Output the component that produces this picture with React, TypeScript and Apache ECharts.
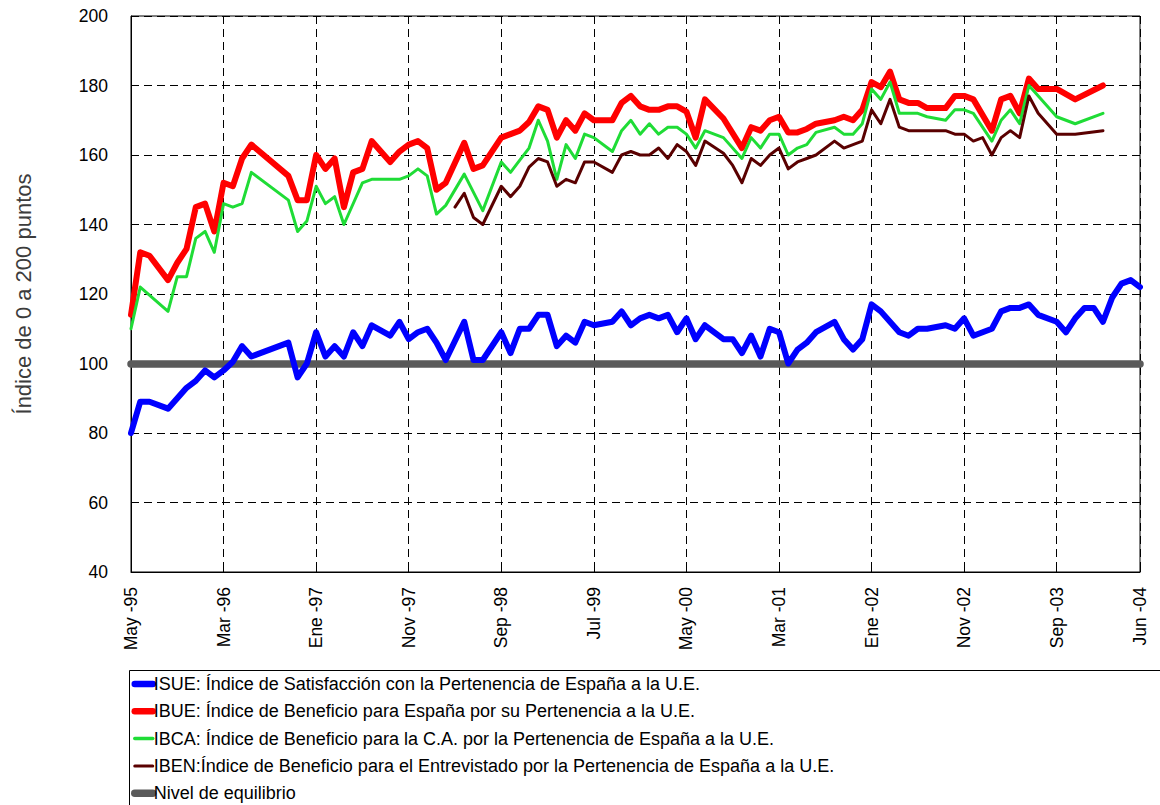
import React, { useEffect, useRef } from "react";
import * as echarts from "echarts";

// Month names (Spanish) and categories: monthly from May 1995 to Jun 2004
const MONTHS = ["Ene", "Feb", "Mar", "Abr", "May", "Jun", "Jul", "Ago", "Sep", "Oct", "Nov", "Dic"];
const START_YEAR = 1995;
const START_MONTH = 4; // May
const N_MONTHS = 110;
const CATEGORIES: string[] = [];
for (let i = 0; i < N_MONTHS; i++) {
  const m = (START_MONTH + i) % 12;
  const y = START_YEAR + Math.floor((START_MONTH + i) / 12);
  CATEGORIES.push(`${MONTHS[m]} -${String(y % 100).padStart(2, "0")}`);
}

const Y_MIN = 40;
const Y_MAX = 200;
const Y_STEP = 20;
const EQUILIBRIUM = 100;

const NAME_ISUE = "ISUE: Índice de Satisfacción con la Pertenencia de España a la U.E.";
const NAME_IBUE = "IBUE: Índice de Beneficio para España por su Pertenencia a la U.E.";
const NAME_IBCA = "IBCA: Índice de Beneficio para la C.A. por la Pertenencia de España a la U.E.";
const NAME_IBEN = "IBEN:Índice de Beneficio para el Entrevistado por la Pertenencia de España a la U.E.";
const NAME_EQ = "Nivel de equilibrio";
const Y_TITLE = "Índice de 0 a 200 puntos";

// [month index, value]
const ISUE: [number, number][] = [
  [0, 80], [1, 89], [2, 89], [4, 87], [6, 93], [7, 95], [8, 98], [9, 96], [10, 98], [11, 100.5],
  [12, 105], [13, 102], [17, 106], [18, 96], [19, 100], [20, 109], [21, 102], [22, 105], [23, 102],
  [24, 109], [25, 105], [26, 111], [28, 108], [29, 112], [30, 107], [31, 109], [32, 110], [33, 106],
  [34, 101], [36, 112], [37, 101], [38, 101], [40, 109], [41, 103], [42, 110], [43, 110], [44, 114],
  [45, 114], [46, 105], [47, 108], [48, 106], [49, 112], [50, 111], [52, 112], [53, 115], [54, 111],
  [55, 113], [56, 114], [57, 113], [58, 114], [59, 109], [60, 113], [61, 107], [62, 111], [64, 107],
  [65, 107], [66, 103], [67, 108], [68, 102], [69, 110], [70, 109], [71, 100], [72, 104], [73, 106],
  [74, 109], [76, 112], [77, 107], [78, 104], [79, 107], [80, 117], [81, 115], [83, 109], [84, 108],
  [85, 110], [86, 110], [88, 111], [89, 110], [90, 113], [91, 108], [93, 110], [94, 115], [95, 116],
  [96, 116], [97, 117], [98, 114], [100, 112], [101, 109], [102, 113], [103, 116], [104, 116],
  [105, 112], [106, 119], [107, 123], [108, 124], [109, 122],
];

const IBUE: [number, number][] = [
  [0, 114], [1, 132], [2, 131], [4, 124], [5, 129], [6, 133], [7, 145], [8, 146], [9, 138], [10, 152],
  [11, 151], [12, 159], [13, 163], [17, 154], [18, 147], [19, 147], [20, 160], [21, 156], [22, 159],
  [23, 145], [24, 155], [25, 156], [26, 164], [28, 158], [29, 161], [30, 163], [31, 164], [32, 162],
  [33, 150], [34, 152], [36, 163.5], [37, 156], [38, 157], [40, 165], [41, 166], [42, 167],
  [43, 169.5], [44, 174], [45, 173], [46, 165], [47, 170], [48, 167], [49, 172], [50, 170], [52, 170],
  [53, 175], [54, 177], [55, 174], [56, 173], [57, 173], [58, 174], [59, 174], [60, 172.5], [61, 165],
  [62, 176], [64, 170.5], [66, 162], [67, 168], [68, 167], [69, 170], [70, 171], [71, 166.5],
  [72, 166.5], [73, 167.5], [74, 169], [76, 170], [77, 171], [78, 170], [79, 173], [80, 181],
  [81, 179.5], [82, 184], [83, 176], [84, 175], [85, 175], [86, 173.5], [88, 173.5], [89, 177],
  [90, 177], [91, 176], [93, 167], [94, 176], [95, 177], [96, 172], [97, 182], [98, 179], [100, 179],
  [102, 176], [105, 180],
];

const IBCA: [number, number][] = [
  [0, 110], [1, 122], [4, 115], [5, 125], [6, 125], [7, 136], [8, 138], [9, 132], [10, 146], [11, 145],
  [12, 146], [13, 155], [17, 147], [18, 138], [19, 141], [20, 151], [21, 146], [22, 148], [23, 140],
  [25, 152], [26, 153], [29, 153], [30, 154], [31, 156], [32, 154], [33, 143], [34, 145.5],
  [36, 154.5], [38, 144], [40, 158], [41, 155], [42, 158.5], [43, 162], [44, 170], [45, 164],
  [46, 153], [47, 163], [48, 159], [49, 166], [50, 165], [52, 161], [53, 167], [54, 170], [55, 166],
  [56, 169], [57, 166], [58, 168], [59, 168], [60, 166], [61, 162], [62, 167], [64, 165], [66, 159],
  [67, 165], [68, 162], [69, 166], [70, 166], [71, 160], [72, 162], [73, 163], [74, 166.5], [76, 168],
  [77, 166], [78, 166], [79, 169], [80, 179], [81, 176], [82, 181], [83, 172], [85, 172], [86, 171],
  [88, 170], [89, 173], [90, 173], [91, 172], [93, 164], [94, 170], [95, 173], [96, 169], [97, 180],
  [100, 171], [102, 169], [105, 172],
];

const IBEN: [number, number][] = [
  [35, 145], [36, 149], [37, 142], [38, 140], [40, 151], [41, 148], [42, 151], [43, 156.5], [44, 159],
  [45, 158], [46, 151], [47, 153], [48, 152], [49, 158], [50, 158], [52, 155], [53, 160], [54, 161],
  [55, 160], [56, 160], [57, 162], [58, 159], [59, 163], [60, 161], [61, 157], [62, 164], [64, 160.5],
  [65, 157], [66, 152], [67, 159], [68, 157], [69, 160], [70, 162], [71, 156], [72, 158], [73, 159],
  [74, 160], [76, 164], [77, 162], [79, 164], [80, 173], [81, 169], [82, 176], [83, 168], [84, 167],
  [85, 167], [88, 167], [89, 166], [90, 166], [91, 164], [92, 165], [93, 160], [94, 165], [95, 167],
  [96, 165], [97, 177], [98, 172], [100, 166], [102, 166], [105, 167],
];

const FONT = "'Liberation Sans', Arial, sans-serif";
const COLORS = {
  isue: "#0000ff",
  ibue: "#ff0000",
  ibca: "#1fdc36",
  iben: "#5a0000",
  eq: "#5a5a5a",
};

const labelEvery = (index: number) => index % 10 === 0 || index === N_MONTHS - 1;

export default function App() {
  const ref = useRef<HTMLDivElement>(null);

  useEffect(() => {
    document.body.style.margin = "0";
    if (!ref.current) return;
    const chart = echarts.init(ref.current, undefined, { renderer: "svg" });

    const lineSeries = (name: string, data: [number, number][], color: string, width: number, z: number) => ({
      name,
      type: "line",
      data,
      symbol: "none",
      connectNulls: true,
      clip: false,
      z,
      lineStyle: { color, width, cap: "round", join: "round" },
      itemStyle: { color },
    });

    const legendItem = (name: string, color: string, width: number) => ({
      name,
      lineStyle: { width, cap: "round", color },
      itemStyle: { opacity: 0 },
    });

    chart.setOption({
      animation: false,
      backgroundColor: "#ffffff",
      textStyle: { fontFamily: FONT },
      grid: {
        left: 131,
        right: 20,
        top: 16,
        bottom: 233,
        show: true,
        borderColor: "#000",
        borderWidth: 1,
        backgroundColor: "transparent",
      },
      legend: {
        orient: "vertical",
        left: 131,
        top: 675,
        itemWidth: 18,
        itemHeight: 14,
        itemGap: 9.3,
        padding: 0,
        selectedMode: false,
        textStyle: { fontSize: 18, color: "#000", fontFamily: FONT, padding: [0, 0, 0, -4] },
        data: [
          legendItem(NAME_ISUE, COLORS.isue, 6.5),
          legendItem(NAME_IBUE, COLORS.ibue, 6.5),
          legendItem(NAME_IBCA, COLORS.ibca, 3.5),
          legendItem(NAME_IBEN, COLORS.iben, 3),
          legendItem(NAME_EQ, COLORS.eq, 7.5),
        ],
      },
      graphic: [
        {
          type: "rect",
          left: 127,
          top: 668,
          shape: { width: 1200, height: 300 },
          style: { fill: "none", stroke: "#000", lineWidth: 1 },
          silent: true,
        },
      ],
      xAxis: {
        type: "category",
        data: CATEGORIES,
        boundaryGap: false,
        axisLine: { show: true, lineStyle: { color: "#000", width: 1 } },
        axisTick: { show: true, inside: true, length: 5, interval: labelEvery, lineStyle: { color: "#000" } },
        axisLabel: {
          interval: labelEvery,
          rotate: 90,
          margin: 15,
          fontSize: 17.5,
          color: "#000",
          fontFamily: FONT,
        },
        splitLine: {
          show: true,
          interval: labelEvery,
          lineStyle: { color: "#000", width: 1, type: [8, 5] },
        },
      },
      yAxis: {
        type: "value",
        min: Y_MIN,
        max: Y_MAX,
        interval: Y_STEP,
        name: Y_TITLE,
        nameLocation: "middle",
        nameRotate: 90,
        nameGap: 97,
        nameTextStyle: { fontSize: 22, color: "#3c3c3c", fontFamily: FONT },
        axisLine: { show: true, lineStyle: { color: "#000", width: 1 } },
        axisTick: { show: true, inside: true, length: 5, lineStyle: { color: "#000" } },
        axisLabel: { margin: 23, fontSize: 17.5, color: "#000", fontFamily: FONT },
        splitLine: { show: true, lineStyle: { color: "#000", width: 1, type: [8, 5] } },
      },
      series: [
        {
          name: NAME_EQ,
          type: "line",
          data: [],
          symbol: "none",
          z: 2,
          lineStyle: { color: COLORS.eq, width: 7.5, cap: "round" },
          itemStyle: { color: COLORS.eq },
          markLine: {
            silent: true,
            symbol: ["none", "none"],
            label: { show: false },
            lineStyle: { color: COLORS.eq, width: 7.5, type: "solid", cap: "round" },
            data: [{ yAxis: EQUILIBRIUM }],
          },
        },
        lineSeries(NAME_IBUE, IBUE, COLORS.ibue, 6, 3),
        lineSeries(NAME_IBCA, IBCA, COLORS.ibca, 3, 4),
        lineSeries(NAME_IBEN, IBEN, COLORS.iben, 3, 5),
        lineSeries(NAME_ISUE, ISUE, COLORS.isue, 6, 6),
      ],
    });

    return () => chart.dispose();
  }, []);

  return <div ref={ref} style={{ width: 1160, height: 805 }} />;
}
